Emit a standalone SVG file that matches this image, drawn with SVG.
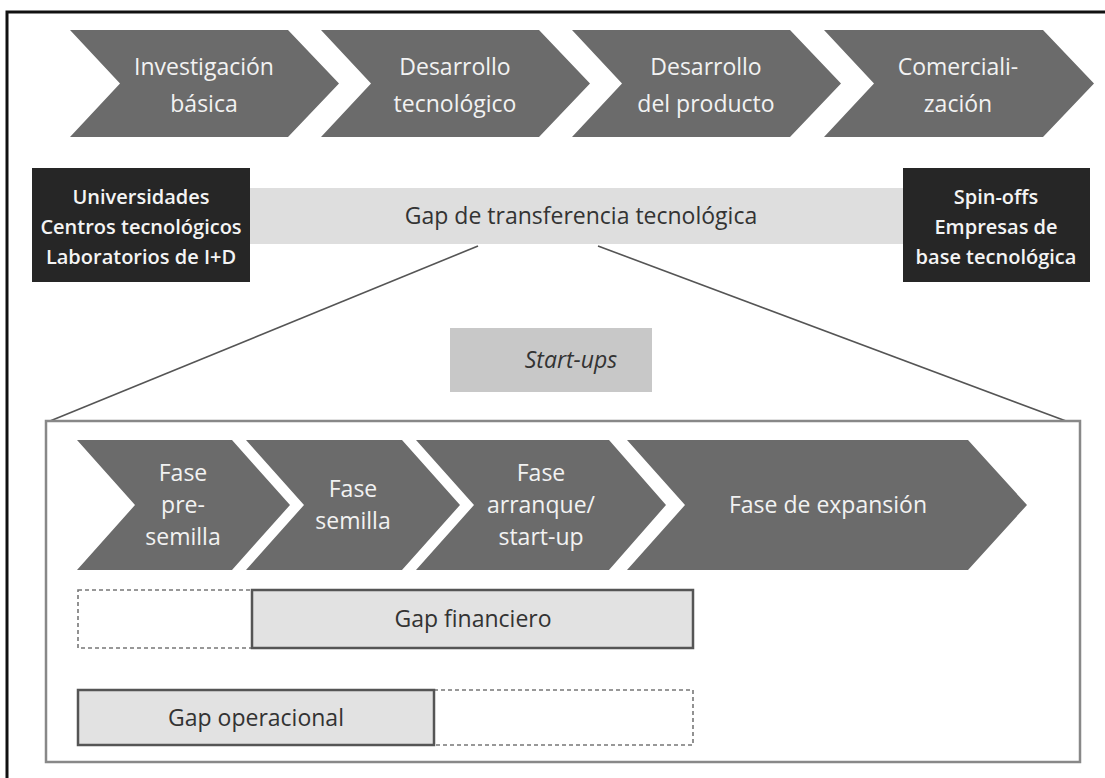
<svg xmlns="http://www.w3.org/2000/svg" width="1105" height="778" viewBox="0 0 1105 778">
<style>
.chev{fill:#6b6b6b}
.ct{font-family:"Open Sans","Liberation Sans",sans-serif;font-size:23px;fill:#f2f2f2;text-anchor:middle}
.dark{fill:#262626}
.dt{font-family:"Open Sans","Liberation Sans",sans-serif;font-size:20px;font-weight:600;fill:#f4f4f4;text-anchor:middle}
.gt{font-family:"Open Sans","Liberation Sans",sans-serif;font-size:23px;fill:#333;text-anchor:middle}
.solid{fill:#e2e2e2;stroke:#555;stroke-width:2.5}
.dash{fill:#fff;stroke:#777;stroke-width:1.6;stroke-dasharray:4 3}
.conn{stroke:#555;stroke-width:1.6;fill:none}
</style>
<rect x="0" y="0" width="1105" height="778" fill="#fff"/>
<rect id="frame" x="7" y="12" width="1200" height="900" fill="none" stroke="#111" stroke-width="3"/>

<g id="top-1"><path class="chev" d="M70,30 H288 L339,83.5 L288,137 H70 L120,83.5 Z"/>
<text class="ct" x="204" y="75">Investigación</text><text class="ct" x="204" y="112">básica</text></g>
<g id="top-2"><path class="chev" d="M321,30 H539 L590,83.5 L539,137 H321 L371,83.5 Z"/>
<text class="ct" x="455" y="75">Desarrollo</text><text class="ct" x="455" y="112">tecnológico</text></g>
<g id="top-3"><path class="chev" d="M572,30 H790 L841,83.5 L790,137 H572 L622,83.5 Z"/>
<text class="ct" x="706" y="75">Desarrollo</text><text class="ct" x="706" y="112">del producto</text></g>
<g id="top-4"><path class="chev" d="M824,30 H1043 L1094,83.5 L1043,137 H824 L874,83.5 Z"/>
<text class="ct" x="958" y="75">Comerciali-</text><text class="ct" x="958" y="112">zación</text></g>

<g id="gap-transferencia"><rect x="250" y="188" width="653" height="56" fill="#dedede"/>
<text class="gt" x="581" y="224" font-size="24">Gap de transferencia tecnológica</text></g>
<g id="universidades"><rect class="dark" x="32" y="168" width="218" height="114"/>
<text class="dt" x="141" y="204">Universidades</text><text class="dt" x="141" y="234">Centros tecnológicos</text><text class="dt" x="141" y="264">Laboratorios de I+D</text></g>
<g id="spinoffs"><rect class="dark" x="903" y="168" width="187" height="114"/>
<text class="dt" x="996" y="204">Spin-offs</text><text class="dt" x="996" y="234">Empresas de</text><text class="dt" x="996" y="264">base tecnológica</text></g>

<g id="connectors">
<line class="conn" x1="478" y1="246" x2="50" y2="421"/>
<line class="conn" x1="598" y1="246" x2="1066" y2="421"/>
</g>

<g id="startups"><rect x="450" y="328" width="202" height="64" fill="#c8c8c8"/>
<text class="gt" x="571" y="368" font-style="italic">Start-ups</text></g>

<g id="startup-box"><rect x="46" y="421" width="1034" height="341" fill="none" stroke="#888" stroke-width="2.5"/></g>

<g id="fase-presemilla"><path class="chev" d="M77,440 H232 L290,505 L232,570 H77 L135,505 Z"/>
<text class="ct" x="183" y="481">Fase</text><text class="ct" x="183" y="513">pre-</text><text class="ct" x="183" y="545">semilla</text></g>
<g id="fase-semilla"><path class="chev" d="M246,440 H402 L460,505 L402,570 H246 L304,505 Z"/>
<text class="ct" x="353" y="497">Fase</text><text class="ct" x="353" y="529">semilla</text></g>
<g id="fase-arranque"><path class="chev" d="M416,440 H609 L666,505 L609,570 H416 L474,505 Z"/>
<text class="ct" x="541" y="481">Fase</text><text class="ct" x="541" y="513">arranque/</text><text class="ct" x="541" y="545">start-up</text></g>
<g id="fase-expansion"><path class="chev" d="M627,440 H968 L1027,505 L968,570 H627 L685,505 Z"/>
<text class="ct" x="828" y="513">Fase de expansión</text></g>

<g id="gap-financiero"><rect class="dash" x="78" y="590" width="174" height="58"/>
<rect class="solid" x="252" y="590" width="441" height="58"/>
<text class="gt" x="473" y="627">Gap financiero</text></g>
<g id="gap-operacional"><rect class="dash" x="434" y="690" width="259" height="55"/>
<rect class="solid" x="78" y="690" width="356" height="55"/>
<text class="gt" x="256" y="726">Gap operacional</text></g>
</svg>
